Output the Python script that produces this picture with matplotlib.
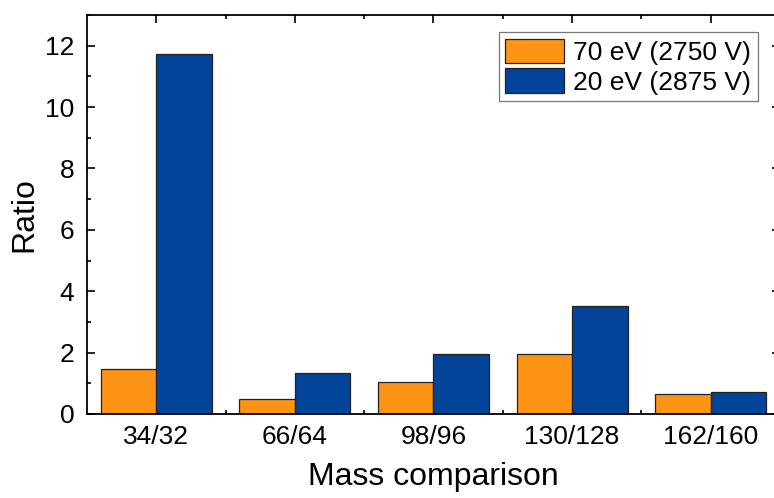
import numpy as np
import matplotlib
matplotlib.use("Agg")
import matplotlib.pyplot as plt
from matplotlib.ticker import MultipleLocator

plt.rcParams['font.family'] = ['Liberation Sans', 'DejaVu Sans']

categories = ['34/32', '66/64', '98/96', '130/128', '162/160']
ratio_70ev = [1.47, 0.48, 1.03, 1.94, 0.65]
ratio_20ev = [11.73, 1.34, 1.95, 3.52, 0.71]
labels = ['70 eV (2750 V)', '20 eV (2875 V)']

fig = plt.figure(figsize=(7.74, 4.98), dpi=100)
ax = fig.add_axes([0.1124, 0.1687, 0.8953, 0.8012])

x = np.arange(len(categories))
w = 0.4
ax.bar(x - w / 2, ratio_70ev, w, color='#FD9415', edgecolor='#222222',
       linewidth=0.9, label=labels[0], zorder=2)
ax.bar(x + w / 2, ratio_20ev, w, color='#02449A', edgecolor='#222222',
       linewidth=0.9, label=labels[1], zorder=2)

ax.set_xlim(-0.5, len(categories) - 0.5)
ax.set_ylim(0, 13)
ax.set_xticks(x)
ax.set_xticklabels(categories)
ax.set_xticks(x[:-1] + 0.5, minor=True)
ax.yaxis.set_major_locator(MultipleLocator(2))
ax.yaxis.set_minor_locator(MultipleLocator(1))

ax.tick_params(which='both', direction='in', top=True, right=True,
               width=1.2, labelsize=19, colors='black')
ax.tick_params(which='major', length=6)
ax.tick_params(which='minor', length=3)
ax.tick_params(axis='x', pad=8)
ax.tick_params(axis='y', pad=9)
for s in ax.spines.values():
    s.set_linewidth(1.3)

ax.set_xlabel('Mass comparison', fontsize=23, labelpad=9)
ax.set_ylabel('Ratio', fontsize=23, labelpad=4)

leg = ax.legend(loc='upper right', bbox_to_anchor=(0.968, 0.957), fontsize=19,
                frameon=True, fancybox=False, handlelength=2.23, handleheight=1.06,
                handletextpad=0.35, borderpad=0.25, labelspacing=0.12,
                borderaxespad=0.0)
leg.get_frame().set_edgecolor('#555555')
leg.get_frame().set_linewidth(0.9)

fig.savefig('out.png', dpi=100)
